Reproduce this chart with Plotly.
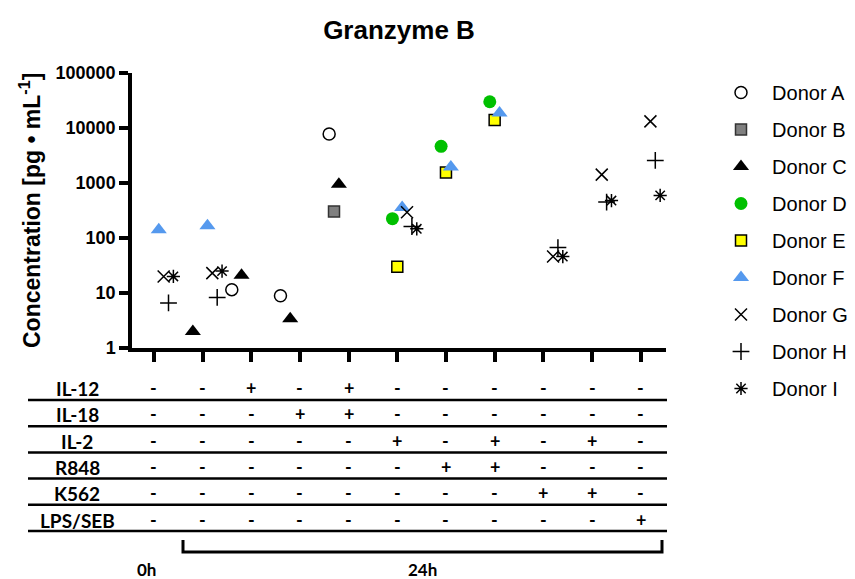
import plotly.graph_objects as go

# ---------------- data ----------------
conditions = list(range(11))  # 0h + 10 stimulations at 24h
donors = ["Donor A", "Donor B", "Donor C", "Donor D", "Donor E",
          "Donor F", "Donor G", "Donor H", "Donor I"]
N = None
donor_a = [N, N, 11.5, 8.9, 7800, N, N, N, N, N, N]
donor_b = [N, N, N, N, 303, N, N, N, N, N, N]
donor_c = [N, 2.0, 21, 3.4, 950, N, N, N, N, N, N]
donor_d = [N, N, N, N, N, 225, 4650, 30000, N, N, N]
donor_e = [N, N, N, N, N, 30, 1560, 14000, N, N, N]
donor_f = [141, 167, N, N, N, 360, 1950, 18700, N, N, N]
donor_g = [20, 23, N, N, N, 293, N, N, 46, 1420, 13200]
donor_h = [6.6, 8.3, N, N, N, 162, N, N, 67, 450, 2570]
donor_i = [20, 25, N, N, N, 147, N, N, 46, 480, 595]
values = [donor_a, donor_b, donor_c, donor_d, donor_e,
          donor_f, donor_g, donor_h, donor_i]

row_labels = ["IL-12", "IL-18", "IL-2", "R848", "K562", "LPS/SEB"]
il12 = "--+-+------"
il18 = "---++------"
il2 = "-----+-+-+-"
r848 = "------++---"
k562 = "--------++-"
lpsseb = "----------+"
table_rows = [il12, il18, il2, r848, k562, lpsseb]

ytick_vals = [1, 10, 100, 1000, 10000, 100000]
ytick_text = ["1", "10", "100", "1000", "10000", "100000"]

# ---------------- styles ----------------
styles = [
    dict(symbol="circle-open", size=12, color="black", line=dict(color="black", width=1.5)),
    dict(symbol="square", size=11, color="#808080", line=dict(color="#333333", width=1.5)),
    dict(symbol="triangle-up", size=14, color="black", line=dict(width=0)),
    dict(symbol="circle", size=13, color="#00C000", line=dict(width=0)),
    dict(symbol="square", size=11, color="#FFFF00", line=dict(color="black", width=1.5)),
    dict(symbol="triangle-up", size=14, color="#5599EE", line=dict(width=0)),
    dict(symbol="x-thin-open", size=12, color="black", line=dict(color="black", width=1.5)),
    dict(symbol="cross-thin-open", size=12, color="black", line=dict(color="black", width=1.5)),
    dict(symbol="asterisk-open", size=11, color="black", line=dict(color="black", width=1.5)),
]

# plot area in pixels
W, H = 855, 579
L, R, T, B = 132, 666, 73, 348


def px(x):
    return (x - L) / (R - L)


def py(y):
    return (B - y) / (B - T)


FONT = "Liberation Sans"
TFONT = "Lato"

fig = go.Figure()
for k, (name, vals, st) in enumerate(zip(donors, values, styles)):
    off = (k - 4) * 0.1
    xs = [c + off for c, v in zip(conditions, vals) if v is not None]
    ys = [v for v in vals if v is not None]
    fig.add_trace(go.Scatter(
        x=xs, y=ys, mode="markers", name="\u00a0\u00a0" + name,
        legendgroup=name, marker=st, cliponaxis=False))

annotations = []
# y-axis title
annotations.append(dict(
    text="<b>Concentration [pg • mL<sup>-1</sup>]</b>", textangle=-90,
    xref="paper", yref="paper", x=px(30), y=py(211),
    xanchor="center", yanchor="middle", showarrow=False,
    font=dict(family=FONT, size=23, color="black")))

row_text_y = [388, 414.5, 441, 467, 493, 520]
line_y = [400, 426.2, 452.4, 478.6, 504.8, 531]
shapes = []
for r, (lab, row) in enumerate(zip(row_labels, table_rows)):
    annotations.append(dict(
        text="<b>%s</b>" % lab, xref="paper", yref="paper",
        x=px(77), y=py(row_text_y[r]), xanchor="center", yanchor="middle",
        showarrow=False, font=dict(family=TFONT, size=19, color="black")))
    for c, ch in zip(conditions, row):
        annotations.append(dict(
            text="<b>%s</b>" % ch, xref="x", yref="paper",
            x=c, y=py(row_text_y[r]), xanchor="center", yanchor="middle",
            showarrow=False, font=dict(family=TFONT, size=18, color="black")))
    shapes.append(dict(type="line", xref="paper", yref="paper",
                       x0=px(28), x1=px(667), y0=py(line_y[r]), y1=py(line_y[r]),
                       line=dict(color="black", width=2.5)))

# bracket for 24h
shapes.append(dict(type="path", xref="paper", yref="paper",
                   path="M %f %f L %f %f L %f %f L %f %f" % (
                       px(183), py(540), px(183), py(552),
                       px(662), py(552), px(662), py(540)),
                   line=dict(color="black", width=3)))
for lab, xc in [("0h", 146), ("24h", 422)]:
    annotations.append(dict(text="<b>%s</b>" % lab, xref="paper", yref="paper",
                            x=px(xc), y=py(578.5), xanchor="center", yanchor="bottom",
                            height=17, borderpad=0,
                            showarrow=False, font=dict(family=TFONT, size=17, color="black")))

fig.update_layout(
    width=W, height=H,
    margin=dict(l=L, r=W - R, t=T, b=H - B),
    paper_bgcolor="white", plot_bgcolor="white",
    title=dict(text="<b>Granzyme B</b>", x=0.5, xref="paper", xanchor="center",
               y=1 - 30 / H, yref="container", yanchor="middle",
               font=dict(family=FONT, size=26, color="black")),
    xaxis=dict(range=[-0.45, 10.52], tickvals=conditions, showticklabels=False,
               ticks="outside", ticklen=10, tickwidth=3.5, tickcolor="black",
               showline=True, linewidth=3.5, linecolor="black",
               showgrid=False, zeroline=False),
    yaxis=dict(type="log", range=[0, 5], tickvals=ytick_vals,
               ticktext=["<b>%s</b>" % t for t in ytick_text],
               tickfont=dict(family=FONT, size=18, color="black"),
               ticks="outside", ticklen=9, tickwidth=3.5, tickcolor="black",
               showline=True, linewidth=3.5, linecolor="black",
               showgrid=False, zeroline=False),
    legend=dict(xref="container", yref="container",
                x=721 / W, y=1 - 73 / H, xanchor="left", yanchor="top",
                font=dict(family=FONT, size=20, color="black"),
                tracegroupgap=8, bgcolor="rgba(0,0,0,0)", maxheight=1.0),
    showlegend=True,
    annotations=annotations, shapes=shapes,
)

fig.write_html("out.html")
